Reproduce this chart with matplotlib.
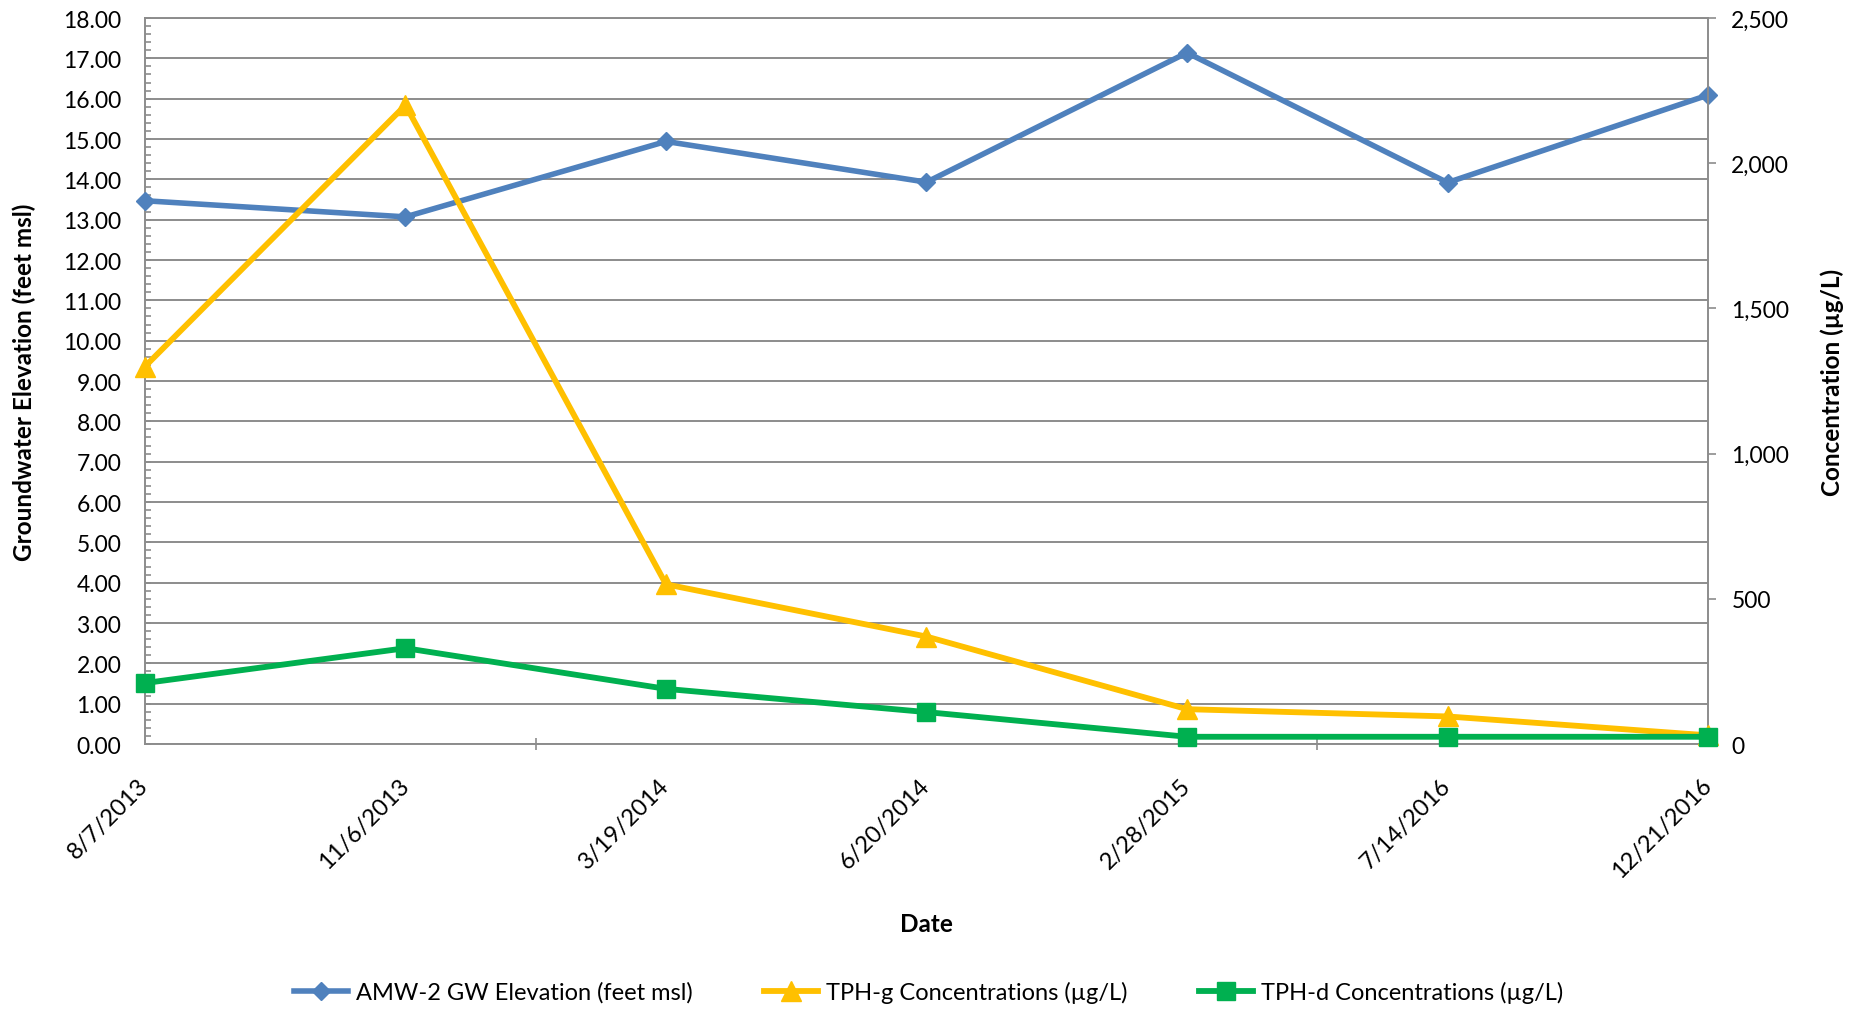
import numpy as np
import matplotlib
matplotlib.use("Agg")
import matplotlib.pyplot as plt
from matplotlib.ticker import MultipleLocator, FuncFormatter, FixedLocator

plt.rcParams["font.family"] = ["Lato", "DejaVu Sans"]

dates = ["8/7/2013", "11/6/2013", "3/19/2014", "6/20/2014", "2/28/2015", "7/14/2016", "12/21/2016"]
gw_elev = [13.47, 13.07, 14.94, 13.93, 17.14, 13.92, 16.09]   # feet msl
tph_g = [1300, 2200, 550, 370, 120, 95, 30]                      # ug/L
tph_d = [210, 330, 190, 110, 25, 25, 25]                         # ug/L

BLUE, YELLOW, GREEN = "#4F81BD", "#FFC000", "#00B050"
GRID = "#8C8C8C"
FS = 16.5      # tick labels
FS_T = 17.5    # axis titles
FS_L = 17      # legend

fig, ax = plt.subplots(figsize=(18.61, 10.12), dpi=100)
fig.subplots_adjust(left=0.0779, right=0.9178, top=0.9812, bottom=0.2638)
ax2 = ax.twinx()

x = np.arange(len(dates))
l1, = ax.plot(x, gw_elev, color=BLUE, lw=4.0, marker="D", ms=9.5, clip_on=False, zorder=3,
              label="AMW-2 GW Elevation (feet msl)")
l2, = ax2.plot(x, tph_g, color=YELLOW, lw=4.2, marker="^", ms=14, clip_on=False, zorder=3,
               label="TPH-g Concentrations (µg/L)")
l3, = ax2.plot(x, tph_d, color=GREEN, lw=4.2, marker="s", ms=13, clip_on=False, zorder=4,
               label="TPH-d Concentrations (µg/L)")

# primary axis
ax.set_xlim(0, 6)
ax.set_ylim(0, 18)
ax.yaxis.set_major_locator(MultipleLocator(1))
ax.yaxis.set_minor_locator(MultipleLocator(0.2))
ax.yaxis.set_major_formatter(FuncFormatter(lambda v, p: f"{v:.2f}"))
ax.grid(axis="y", which="major", color=GRID, lw=1.4)
ax.set_axisbelow(True)
ax.tick_params(axis="y", which="both", direction="in", length=4.3, width=1.2, color=GRID,
               labelsize=FS, pad=17)

ax.set_xticks(x)
ax.set_xticklabels(dates, rotation=45, ha="right", va="center", rotation_mode="anchor")
ax.xaxis.set_minor_locator(FixedLocator([0, 1.5, 3, 4.5, 6]))
ax.tick_params(axis="x", which="major", length=0, labelsize=FS + 0.5, pad=27)
ax.tick_params(axis="x", which="minor", direction="inout", length=8.5, width=1.2, color=GRID)

for sp in ax.spines.values():
    sp.set_color(GRID)
    sp.set_linewidth(1.4)
ax.spines["right"].set_visible(False)

# secondary axis
ax2.set_ylim(0, 2500)
ax2.yaxis.set_major_locator(MultipleLocator(500))
ax2.yaxis.set_major_formatter(FuncFormatter(lambda v, p: f"{v:,.0f}"))
ax2.tick_params(axis="y", direction="out", length=5.8, width=1.2, color=GRID, labelsize=FS, pad=11)
for sp in ax2.spines.values():
    sp.set_visible(False)
ax2.spines["right"].set_visible(True)
ax2.spines["right"].set_color(GRID)
ax2.spines["right"].set_linewidth(1.4)

ax.set_ylabel("Groundwater Elevation (feet msl)", fontsize=FS_T, fontweight="bold")
ax.yaxis.set_label_coords(-0.0697, 0.5)
ax2.set_ylabel("Concentration (µg/L)", fontsize=FS_T, fontweight="bold")
ax2.yaxis.set_label_coords(1.0717, 0.5)
ax.set_xlabel("Date", fontsize=FS_T, fontweight="bold")
ax.xaxis.set_label_coords(0.5, -0.232)

fig.legend(handles=[l1, l2, l3], loc="center", bbox_to_anchor=(0.499, 0.019), ncol=3,
           frameon=False, fontsize=FS_L, handlelength=2.3, handletextpad=0.35, columnspacing=3.0)

fig.savefig("out.png", dpi=100)
